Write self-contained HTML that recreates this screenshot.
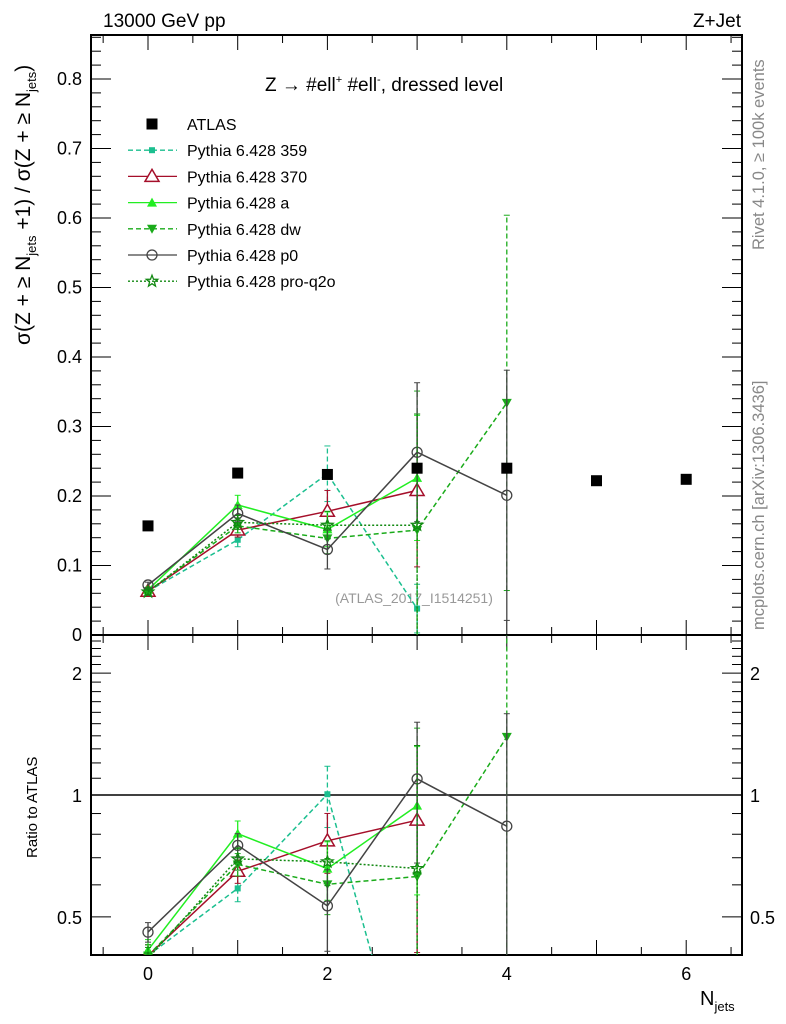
<!DOCTYPE html>
<html><head><meta charset="utf-8"><style>
html,body{margin:0;padding:0;background:#fff;width:786px;height:1024px;overflow:hidden}
svg{font-family:"Liberation Sans",sans-serif;display:block}
</style></head><body>
<svg id="chart" width="786" height="1024" viewBox="0 0 786 1024" xmlns="http://www.w3.org/2000/svg">
<defs>
<clipPath id="cm"><rect x="91" y="35" width="651" height="600"/></clipPath>
<clipPath id="cr"><rect x="91" y="635" width="651" height="320"/></clipPath>
</defs>
<g id="static">
<text x="103" y="27" font-size="19">13000 GeV pp</text>
<text x="741" y="27" font-size="19" text-anchor="end">Z+Jet</text>
<text x="265" y="91" font-size="19">Z <tspan>→</tspan>  #ell<tspan font-size="11" dy="-8">+</tspan><tspan dy="8"> #ell</tspan><tspan font-size="11" dy="-8">-</tspan><tspan dy="8">, dressed level</tspan></text>
<text transform="translate(30,345) rotate(-90)" font-size="21">σ(Z + ≥ N<tspan font-size="13" dy="6">jets</tspan><tspan dy="-6"> +1) / σ(Z + ≥ N</tspan><tspan font-size="13" dy="6">jets</tspan><tspan dy="-6">)</tspan></text>
<text transform="translate(37,858) rotate(-90)" font-size="15">Ratio to ATLAS</text>
<text x="700" y="1005" font-size="20">N<tspan font-size="13" dy="6">jets</tspan></text>
<text transform="translate(764,250) rotate(-90)" font-size="16.5" fill="#888">Rivet 4.1.0, ≥ 100k events</text>
<text transform="translate(764,630) rotate(-90)" font-size="16.5" fill="#888">mcplots.cern.ch [arXiv:1306.3436]</text>
<text x="414" y="603" font-size="14" fill="#999" text-anchor="middle">(ATLAS_2017_I1514251)</text>
</g>
<g id="axes"></g>
<g id="mainMarks" clip-path="url(#cm)"></g>
<g id="ratioMarks" clip-path="url(#cr)"></g>
<g id="legend"></g>
</svg>
<script>
const nj = [0,1,2,3,4,5,6];
const atlas = [0.157,0.233,0.231,0.240,0.240,0.222,0.224];
const v359 = [0.063,0.137,0.232,0.038];
const e359 = [0.004,0.010,0.040,0.035];
const v370 = [0.063,0.151,0.178,0.208];
const e370 = [0.004,0.010,0.030,0.110];
const vA = [0.065,0.187,0.152,0.226];
const eA = [0.004,0.014,0.025,0.090];
const vDW = [0.063,0.157,0.139,0.151,0.334];
const eDW = [0.004,0.010,0.022,0.200,0.270];
const vP0 = [0.072,0.175,0.123,0.263,0.201];
const eP0 = [0.004,0.012,0.028,0.100,0.180];
const vPQ = [0.062,0.162,0.158,0.158];
const ePQ = [0.004,0.010,0.020,0.160];
const yTicks = [0,0.1,0.2,0.3,0.4,0.5,0.6,0.7,0.8];
const xTicks = [0,2,4,6];
const rTicks = [0.5,1,2];
const legendLabels = ["ATLAS","Pythia 6.428 359","Pythia 6.428 370","Pythia 6.428 a","Pythia 6.428 dw","Pythia 6.428 p0","Pythia 6.428 pro-q2o"];

const NS="http://www.w3.org/2000/svg";
const X0=91,X1=742,YT=35,YM=635,YB=955;
const xs=v=>148+89.7*v;
const ys=v=>635-695*v;
const rs=r=>795-405*Math.log10(r);
function mk(tag,at,parent){const e=document.createElementNS(NS,tag);for(const k in at)e.setAttribute(k,at[k]);parent.appendChild(e);return e;}
const axes=document.getElementById('axes');
const mm=document.getElementById('mainMarks');
const rm=document.getElementById('ratioMarks');
const lg=document.getElementById('legend');

let f=mk('rect',{x:X0,y:YT,width:X1-X0,height:YM-YT,fill:'none',stroke:'#000','stroke-width':2},axes);


f=mk('rect',{x:X0,y:YM,width:X1-X0,height:YB-YM,fill:'none',stroke:'#000','stroke-width':2},axes);


for(let v=-0.5;v<=6.6;v+=0.5){
  const major=Math.abs(v-Math.round(v))<1e-6;const L=major?15:8;const x=xs(v);
  for(const [yb,dir] of [[YM,-1],[YT,1],[YB,-1],[YM,1]]) mk('line',{x1:x,x2:x,y1:yb,y2:yb+dir*L,stroke:'#000','stroke-width':1},axes);
}
xTicks.forEach(v=>{const t=mk('text',{x:xs(v),y:980,'font-size':18,'text-anchor':'middle'},axes);t.textContent=v;

});
for(let i=0;i<=43;i++){const v=i*0.02;const y=ys(v);if(y<YT)break;const major=i%5==0;const L=major?20:10;
  mk('line',{x1:X0,x2:X0+L,y1:y,y2:y,stroke:'#000'},axes);mk('line',{x1:X1,x2:X1-L,y1:y,y2:y,stroke:'#000'},axes);}
yTicks.forEach(v=>{const t=mk('text',{x:82,y:ys(v)+6,'font-size':18,'text-anchor':'end'},axes);t.textContent=v;

});
for(let i=4;i<=25;i++){const r=i/10;const y=rs(r);if(y<YM||y>YB)continue;const major=(i==5||i==10||i==20);const L=major?20:10;
  mk('line',{x1:X0,x2:X0+L,y1:y,y2:y,stroke:'#000'},axes);mk('line',{x1:X1,x2:X1-L,y1:y,y2:y,stroke:'#000'},axes);}
rTicks.forEach(r=>{let t=mk('text',{x:82,y:rs(r)+7,'font-size':18,'text-anchor':'end'},axes);t.textContent=r;


t=mk('text',{x:750,y:rs(r)+7,'font-size':18},axes);t.textContent=r;

});
const ref=mk('line',{x1:X0,x2:X1,y1:rs(1),y2:rs(1),stroke:'#000','stroke-width':1.5},axes);



function marker(g,type,x,y,col){
  if(type=='sq') return mk('rect',{x:x-3,y:y-3,width:6,height:6,fill:col},g);
  if(type=='bigsq') return mk('rect',{x:x-5.5,y:y-5.5,width:11,height:11,fill:col},g);
  if(type=='tri') return mk('polygon',{points:`${x},${y-7} ${x-7},${y+5} ${x+7},${y+5}`,fill:'#fff',stroke:col,'stroke-width':1.5},g);
  if(type=='ftri') return mk('polygon',{points:`${x},${y-5} ${x-5},${y+4} ${x+5},${y+4}`,fill:col},g);
  if(type=='dtri') return mk('polygon',{points:`${x},${y+5} ${x-5},${y-4} ${x+5},${y-4}`,fill:col},g);
  if(type=='circ') return mk('circle',{cx:x,cy:y,r:5,fill:'none',stroke:col,'stroke-width':1.3},g);
  if(type=='star'){let p=[];for(let k=0;k<10;k++){const a=-Math.PI/2+k*Math.PI/5;const r=k%2?2.5:6;p.push((x+r*Math.cos(a)).toFixed(1)+','+(y+r*Math.sin(a)).toFixed(1));}
    return mk('polygon',{points:p.join(' '),fill:'none',stroke:col,'stroke-width':1.3},g);}
}
const series=[
 {name:'pythia-359',vals:v359,errs:e359,col:'#1bbf8f',dash:'5,3',m:'sq'},
 {name:'pythia-370',vals:v370,errs:e370,col:'#a50f2a',dash:'',m:'tri'},
 {name:'pythia-a',vals:vA,errs:eA,col:'#22ee22',dash:'',m:'ftri'},
 {name:'pythia-dw',vals:vDW,errs:eDW,col:'#1aab1a',dash:'5,3',m:'dtri'},
 {name:'pythia-p0',vals:vP0,errs:eP0,col:'#444',dash:'',m:'circ'},
 {name:'pythia-pro-q2o',vals:vPQ,errs:ePQ,col:'#118811',dash:'2,2',m:'star'}
];
series.forEach(s=>{
  for(const [g,fy,isR] of [[mm,ys,false],[rm,rs,true]]){
    const grp=mk('g',{},g);
    
    
    const val=(i)=>isR? s.vals[i]/atlas[i] : s.vals[i];
    const pts=s.vals.map((v,i)=>xs(nj[i])+','+fy(Math.max(val(i),0.01)).toFixed(1)).join(' ');
    mk('polyline',{points:pts,fill:'none',stroke:s.col,'stroke-width':1.5,'stroke-dasharray':s.dash},grp);
    s.vals.forEach((v,i)=>{
      const x=xs(nj[i]);
      const lo=isR?Math.max((v-s.errs[i])/atlas[i],0.01):v-s.errs[i];
      const hi=isR?(v+s.errs[i])/atlas[i]:v+s.errs[i];
      const y1=fy(lo),y2=fy(hi);
      const eb=mk('line',{x1:x,x2:x,y1:y1,y2:y2,stroke:s.col,'stroke-width':1.3,'stroke-dasharray':s.dash},grp);
      
      
      mk('line',{x1:x-3,x2:x+3,y1:y1,y2:y1,stroke:s.col},grp);
      mk('line',{x1:x-3,x2:x+3,y1:y2,y2:y2,stroke:s.col},grp);
      const m=marker(grp,s.m,x,fy(Math.max(val(i),0.01)),s.col);
      
      
    });
  }
});
atlas.forEach((v,i)=>{const m=marker(mm,'bigsq',xs(nj[i]),ys(v),'#000');

});
const lm=['bigsq','sq','tri','ftri','dtri','circ','star'];
legendLabels.forEach((lab,i)=>{
  const y=124+i*26.2;const g=mk('g',{},lg);
  
  
  if(i>0){const s=series[i-1];mk('line',{x1:128,x2:177,y1:y,y2:y,stroke:s.col,'stroke-width':1.3,'stroke-dasharray':s.dash},g);marker(g,lm[i],152,y,s.col);}
  else marker(g,'bigsq',152,y,'#000');
  const t=mk('text',{x:187,y:y+6,'font-size':16},g);t.textContent=lab;
});
</script>
</body></html>
